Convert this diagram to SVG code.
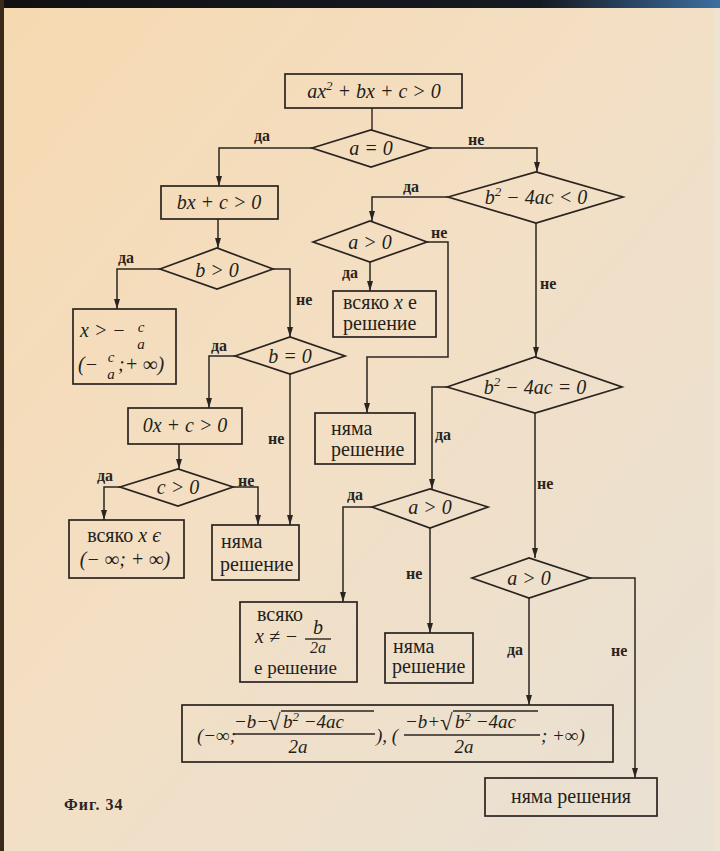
<svg xmlns="http://www.w3.org/2000/svg" width="720" height="851" viewBox="0 0 720 851">
<defs>
<linearGradient id="paper" x1="0" y1="0" x2="1" y2="1">
<stop offset="0" stop-color="#f6d9b0"/>
<stop offset="0.45" stop-color="#f3dfc4"/>
<stop offset="1" stop-color="#e8e1d5"/>
</linearGradient>
<linearGradient id="band" x1="0" y1="0" x2="1" y2="0">
<stop offset="0" stop-color="#111"/>
<stop offset="0.75" stop-color="#151a22"/>
<stop offset="1" stop-color="#3c6fa0"/>
</linearGradient>
<marker id="ar" viewBox="0 0 10 6" refX="10" refY="3" markerWidth="10" markerHeight="6" markerUnits="userSpaceOnUse" orient="auto">
<path d="M0,0 L10,3 L0,6 z" fill="#2a2420"/>
</marker>
</defs>
<style>
.bx{fill:none;stroke:#2a2420;stroke-width:1.7}
.ln{fill:none;stroke:#2a2420;stroke-width:1.4}
.ca{stroke:#2a2420;stroke-width:1.5;fill:none;marker-end:url(#ar)}
.m{font-family:"Liberation Serif","DejaVu Serif",serif;font-style:italic;font-size:20px;fill:#231e1a}
.r{font-family:"Liberation Serif","DejaVu Serif",serif;font-size:20px;fill:#231e1a}
.l{font-family:"Liberation Serif","DejaVu Serif",serif;font-size:16px;font-weight:bold;fill:#2a2420}
.c{text-anchor:middle}
.s{font-size:13px}
.f{font-size:15px}
</style>
<rect width="720" height="851" fill="url(#paper)"/>
<rect x="0" y="0" width="720" height="8" fill="url(#band)"/>
<rect x="0" y="0" width="4" height="851" fill="#3a2a1c"/>
<rect x="714" y="8" width="6" height="843" fill="#efe4d2"/>

<g id="connectors">
<path class="ln" d="M372,108 V130"/>
<path class="ca" d="M312,148 H219 V186"/>
<path class="ca" d="M430,148 H537 V172"/>
<path class="ca" d="M218,219 V248"/>
<path class="ca" d="M160,269 H117 V309"/>
<path class="ca" d="M273,269 H290 V337"/>
<path class="ca" d="M235,356 H209 V408"/>
<path class="ca" d="M290,374 V525"/>
<path class="ca" d="M179,444 V469"/>
<path class="ca" d="M120,487 H104 V520"/>
<path class="ca" d="M233,487 H258 V525"/>
<path class="ca" d="M448,197 H372 V221"/>
<path class="ca" d="M536,223 V357"/>
<path class="ca" d="M370,262 V291"/>
<path class="ca" d="M427,242 H448 V357 H367 V413"/>
<path class="ca" d="M447,387 H432 V489"/>
<path class="ca" d="M535,413 V558"/>
<path class="ca" d="M372,507 H343 V602"/>
<path class="ca" d="M430,528 V633"/>
<path class="ca" d="M529,598 V705"/>
<path class="ca" d="M590,578 H635 V778"/>
<text class="l" x="254" y="141">да</text>
<text class="l" x="468" y="145">не</text>
<text class="l" x="118" y="263">да</text>
<text class="l" x="296" y="305">не</text>
<text class="l" x="211" y="351">да</text>
<text class="l" x="268" y="444">не</text>
<text class="l" x="97" y="481">да</text>
<text class="l" x="238" y="486">не</text>
<text class="l" x="403" y="192">да</text>
<text class="l" x="431" y="238">не</text>
<text class="l" x="342" y="278">да</text>
<text class="l" x="540" y="289">не</text>
<text class="l" x="435" y="440">да</text>
<text class="l" x="537" y="489">не</text>
<text class="l" x="347" y="500">да</text>
<text class="l" x="406" y="579">не</text>
<text class="l" x="507" y="655">да</text>
<text class="l" x="611" y="656">не</text>
</g>

<g id="start">
<rect class="bx" x="285" y="74" width="177" height="34"/>
<text class="m c" x="374" y="98">ax<tspan class="s" dy="-8">2</tspan><tspan dy="8"> + bx + c &gt; 0</tspan></text>
</g>
<g id="d_a0">
<polygon class="bx" points="312,148 371,130 430,148 371,167"/>
<text class="m c" x="371" y="155">a = 0</text>
</g>
<g id="b_bxc">
<rect class="bx" x="161" y="186" width="117" height="33"/>
<text class="m c" x="219" y="209">bx + c &gt; 0</text>
</g>
<g id="d_b_gt">
<polygon class="bx" points="160,269 217,248 273,269 217,289"/>
<text class="m c" x="217" y="277">b &gt; 0</text>
</g>
<g id="b_xgt">
<rect class="bx" x="73" y="309" width="103" height="75"/>
<text class="m" x="80" y="337">x &gt; −</text>
<text class="m c f" x="141" y="332">c</text>
<text class="m c f" x="141" y="349">a</text>
<text class="m" x="78" y="371">(−</text>
<text class="m c f" x="111" y="362">c</text>
<text class="m c f" x="111" y="379">a</text>
<text class="m" x="118" y="371">;+ ∞)</text>
</g>
<g id="d_b_eq">
<polygon class="bx" points="235,356 290,337 345,356 290,374"/>
<text class="m c" x="290" y="363">b = 0</text>
</g>
<g id="b_0x">
<rect class="bx" x="128" y="408" width="114" height="36"/>
<text class="m c" x="185" y="432">0x + c &gt; 0</text>
</g>
<g id="d_c">
<polygon class="bx" points="120,487 178,469 233,487 178,506"/>
<text class="m c" x="178" y="494">c &gt; 0</text>
</g>
<g id="b_all1">
<rect class="bx" x="69" y="520" width="115" height="58"/>
<text class="r c" x="124" y="542">всяко <tspan font-style="italic">x є</tspan></text>
<text class="m c" x="125" y="566">(− ∞; + ∞)</text>
</g>
<g id="b_none1">
<rect class="bx" x="212" y="525" width="87" height="55"/>
<text class="r" x="221" y="548">няма</text>
<text class="r" x="220" y="571">решение</text>
</g>
<g id="d_disc_lt">
<polygon class="bx" points="448,197 536,172 623,197 536,223"/>
<text class="m c" x="536" y="204">b<tspan class="s" dy="-8">2</tspan><tspan dy="8"> − 4ac &lt; 0</tspan></text>
</g>
<g id="d_a_gt1">
<polygon class="bx" points="313,242 370,221 427,242 370,262"/>
<text class="m c" x="370" y="249">a &gt; 0</text>
</g>
<g id="b_all2">
<rect class="bx" x="333" y="291" width="103" height="46"/>
<text class="r" x="343" y="309">всяко <tspan font-style="italic">x</tspan> е</text>
<text class="r" x="343" y="330">решение</text>
</g>
<g id="b_none2">
<rect class="bx" x="315" y="413" width="100" height="51"/>
<text class="r" x="331" y="435">няма</text>
<text class="r" x="331" y="456">решение</text>
</g>
<g id="d_disc_eq">
<polygon class="bx" points="447,387 535,357 622,387 535,413"/>
<text class="m c" x="535" y="394">b<tspan class="s" dy="-8">2</tspan><tspan dy="8"> − 4ac = 0</tspan></text>
</g>
<g id="d_a_gt2">
<polygon class="bx" points="372,507 430,489 488,507 430,528"/>
<text class="m c" x="430" y="514">a &gt; 0</text>
</g>
<g id="b_all3">
<rect class="bx" x="240" y="602" width="117" height="80"/>
<text class="r" x="257" y="621">всяко</text>
<text class="m" x="255" y="643">x ≠ −</text>
<text class="m c" x="318" y="634">b</text>
<line class="ln" x1="305" y1="639" x2="331" y2="639"/>
<text class="m c" x="318" y="653" style="font-size:16px">2a</text>
<text class="r" x="254" y="674" style="font-size:19px">е решение</text>
</g>
<g id="b_none3">
<rect class="bx" x="385" y="633" width="88" height="50"/>
<text class="r" x="393" y="653">няма</text>
<text class="r" x="392" y="673">решение</text>
</g>
<g id="d_a_gt3">
<polygon class="bx" points="472,578 529,558 590,578 529,598"/>
<text class="m c" x="529" y="585">a &gt; 0</text>
</g>
<g id="b_intervals">
<rect class="bx" x="182" y="705" width="431" height="57"/>
<text class="m" x="197" y="742" style="font-size:19px">(−∞;</text>
<text class="m" x="234" y="728" style="font-size:19px">−b−</text>
<text class="r" x="268" y="730" style="font-size:23px">√</text>
<line class="ln" x1="281" y1="711" x2="374" y2="711"/>
<text class="m" x="283" y="728" style="font-size:19px">b<tspan class="s" dy="-7">2</tspan><tspan dy="7"> −4ac</tspan></text>
<line class="ln" x1="234" y1="734" x2="375" y2="734"/>
<text class="m c" x="298" y="753" style="font-size:19px">2a</text>
<text class="m" x="376" y="742" style="font-size:19px">), (</text>
<text class="m" x="405" y="728" style="font-size:19px">−b+</text>
<text class="r" x="440" y="730" style="font-size:23px">√</text>
<line class="ln" x1="453" y1="711" x2="538" y2="711"/>
<text class="m" x="455" y="728" style="font-size:19px">b<tspan class="s" dy="-7">2</tspan><tspan dy="7"> −4ac</tspan></text>
<line class="ln" x1="404" y1="735" x2="540" y2="735"/>
<text class="m c" x="464" y="753" style="font-size:19px">2a</text>
<text class="m" x="541" y="742" style="font-size:19px">; +∞)</text>
</g>
<g id="b_none4">
<rect class="bx" x="485" y="778" width="172" height="38"/>
<text class="r c" x="571" y="803">няма решения</text>
</g>
<text x="64" y="810" style="font-family:'Liberation Serif','DejaVu Serif',serif;font-size:16px;font-weight:bold;letter-spacing:1px;fill:#2a2420">Фиг. 34</text>
</svg>
